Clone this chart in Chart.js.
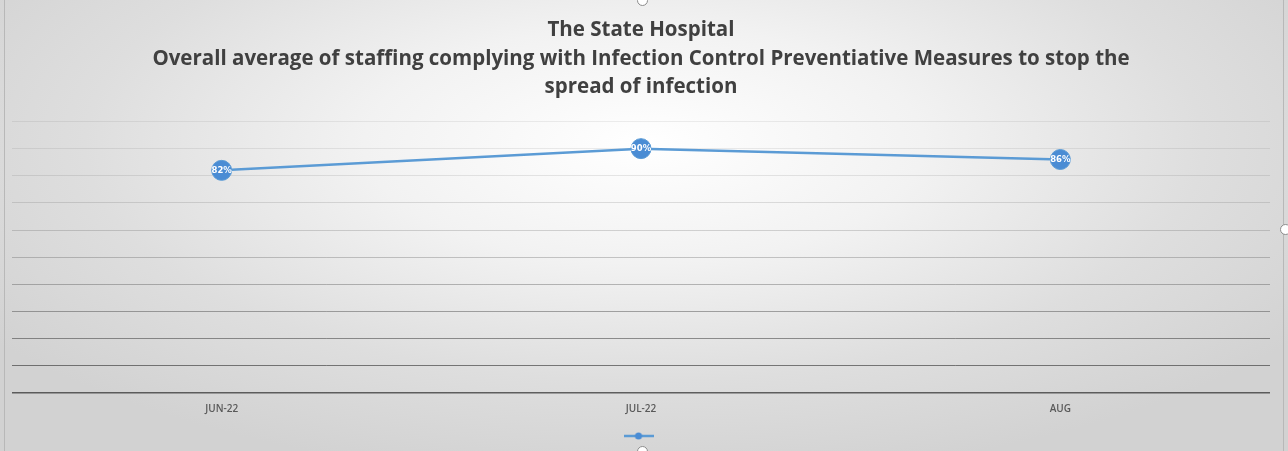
<!DOCTYPE html>
<html lang="en">
<head>
    <meta charset="UTF-8">
    <title>The State Hospital - Infection Control</title>
    <style>
        html, body {
            margin: 0;
            padding: 0;
            width: 1288px;
            height: 451px;
            overflow: hidden;
        }

        body {
            background: radial-gradient(ellipse 62% 75% at 50% 32%, #ffffff 0%, #f2f2f2 35%, #dedede 70%, #d2d2d2 100%);
        }

        .frame {
            position: absolute;
            left: 4px;
            top: 0;
            width: 1280px;
            height: 451px;
            border-left: 1px solid #b8b8b8;
            border-right: 1px solid #b8b8b8;
            box-sizing: border-box;
        }

        .handle {
            position: absolute;
            width: 9px;
            height: 9px;
            border-radius: 50%;
            background: #ffffff;
            border: 1px solid #8c8c8c;
        }

        .chart-box {
            position: absolute;
            left: 0;
            top: 0;
            width: 1288px;
            height: 451px;
        }
    </style>
    <script src="https://cdn.jsdelivr.net/npm/chart.js"></script>
</head>
<body>
    <div class="frame"></div>
    <div class="chart-box">
        <canvas id="chartCompliance" width="1288" height="451"></canvas>
    </div>
    <div class="handle" style="left: 637px; top: -5px;"></div>
    <div class="handle" style="left: 1280px; top: 224px;"></div>
    <div class="handle" style="left: 637px; top: 446px;"></div>

    <script>
        // Meses e percentagem média de conformidade
        const months = ['JUN-22', 'JUL-22', 'AUG'];
        const compliance = [82, 90, 86];

        const titleLines = [
            'The State Hospital',
            'Overall average of staffing complying with Infection Control Preventiative Measures to stop the',
            'spread of infection'
        ];

        const yMin = 0;
        const yMax = 100;
        const yStep = 10;

        const lineBlue = '#5b9bd5';
        const pointBlue = '#4a8cd4';

        // ícone da legenda: linha com marcador ao meio
        const legendIcon = document.createElement('canvas');
        legendIcon.width = 30;
        legendIcon.height = 8;
        (function () {
            const c = legendIcon.getContext('2d');
            c.strokeStyle = lineBlue;
            c.lineWidth = 2.5;
            c.beginPath();
            c.moveTo(0, 4);
            c.lineTo(30, 4);
            c.stroke();
            c.fillStyle = pointBlue;
            c.beginPath();
            c.arc(15, 4, 3.5, 0, Math.PI * 2);
            c.fill();
        })();

        // escreve o valor dentro de cada marcador
        const valueLabels = {
            id: 'valueLabels',
            afterDatasetsDraw(chart) {
                const ctx = chart.ctx;
                chart.data.datasets.forEach((ds, i) => {
                    const meta = chart.getDatasetMeta(i);
                    meta.data.forEach((pt, j) => {
                        ctx.save();
                        ctx.fillStyle = '#ffffff';
                        ctx.font = 'bold 8.5px "DejaVu Sans", sans-serif';
                        ctx.textAlign = 'center';
                        ctx.textBaseline = 'middle';
                        ctx.fillText(ds.data[j] + '%', pt.x, pt.y + 0.5);
                        ctx.restore();
                    });
                });
            }
        };

        function gridShade(value) {
            // linhas mais escuras em baixo
            const t = 1 - (value - yMin) / (yMax - yMin);
            const a = 0.08 + t * t * 0.62;
            return 'rgba(40, 40, 40, ' + a.toFixed(3) + ')';
        }

        const ctx = document.getElementById('chartCompliance').getContext('2d');
        new Chart(ctx, {
            type: 'line',
            data: {
                labels: months,
                datasets: [{
                    label: '',
                    data: compliance,
                    borderColor: lineBlue,
                    borderWidth: 2.5,
                    backgroundColor: pointBlue,
                    pointBackgroundColor: pointBlue,
                    pointBorderColor: lineBlue,
                    pointBorderWidth: 1,
                    pointRadius: 10,
                    pointHoverRadius: 10,
                    tension: 0,
                    fill: false
                }]
            },
            plugins: [valueLabels],
            options: {
                responsive: false,
                animation: false,
                layout: {
                    padding: { top: 0, left: 12, right: 18, bottom: 0 }
                },
                plugins: {
                    title: {
                        display: true,
                        text: titleLines,
                        color: '#404040',
                        font: { family: '"Open Sans"', size: 20.5, weight: 'bold', lineHeight: 1.39 },
                        padding: { top: 16, bottom: 20 }
                    },
                    legend: {
                        display: true,
                        position: 'bottom',
                        labels: {
                            boxWidth: 30,
                            boxHeight: 8,
                            padding: 6,
                            font: { size: 10 },
                            usePointStyle: true,
                            generateLabels(chart) {
                                const items = Chart.defaults.plugins.legend.labels.generateLabels(chart);
                                items.forEach(it => { it.pointStyle = legendIcon; it.text = ''; });
                                return items;
                            }
                        }
                    },
                    tooltip: { enabled: false }
                },
                scales: {
                    x: {
                        offset: true,
                        grid: { display: false, drawTicks: false },
                        border: { display: false },
                        ticks: {
                            color: '#595959',
                            font: { family: '"Open Sans"', size: 10, weight: '600' },
                            padding: 10
                        }
                    },
                    y: {
                        min: yMin,
                        max: yMax,
                        grid: {
                            drawTicks: false,
                            color: c => gridShade(c.tick.value),
                            lineWidth: c => (c.tick.value === yMin ? 1.5 : 1)
                        },
                        border: { display: false },
                        ticks: { display: false, stepSize: yStep }
                    }
                }
            }
        });
    </script>
</body>
</html>
